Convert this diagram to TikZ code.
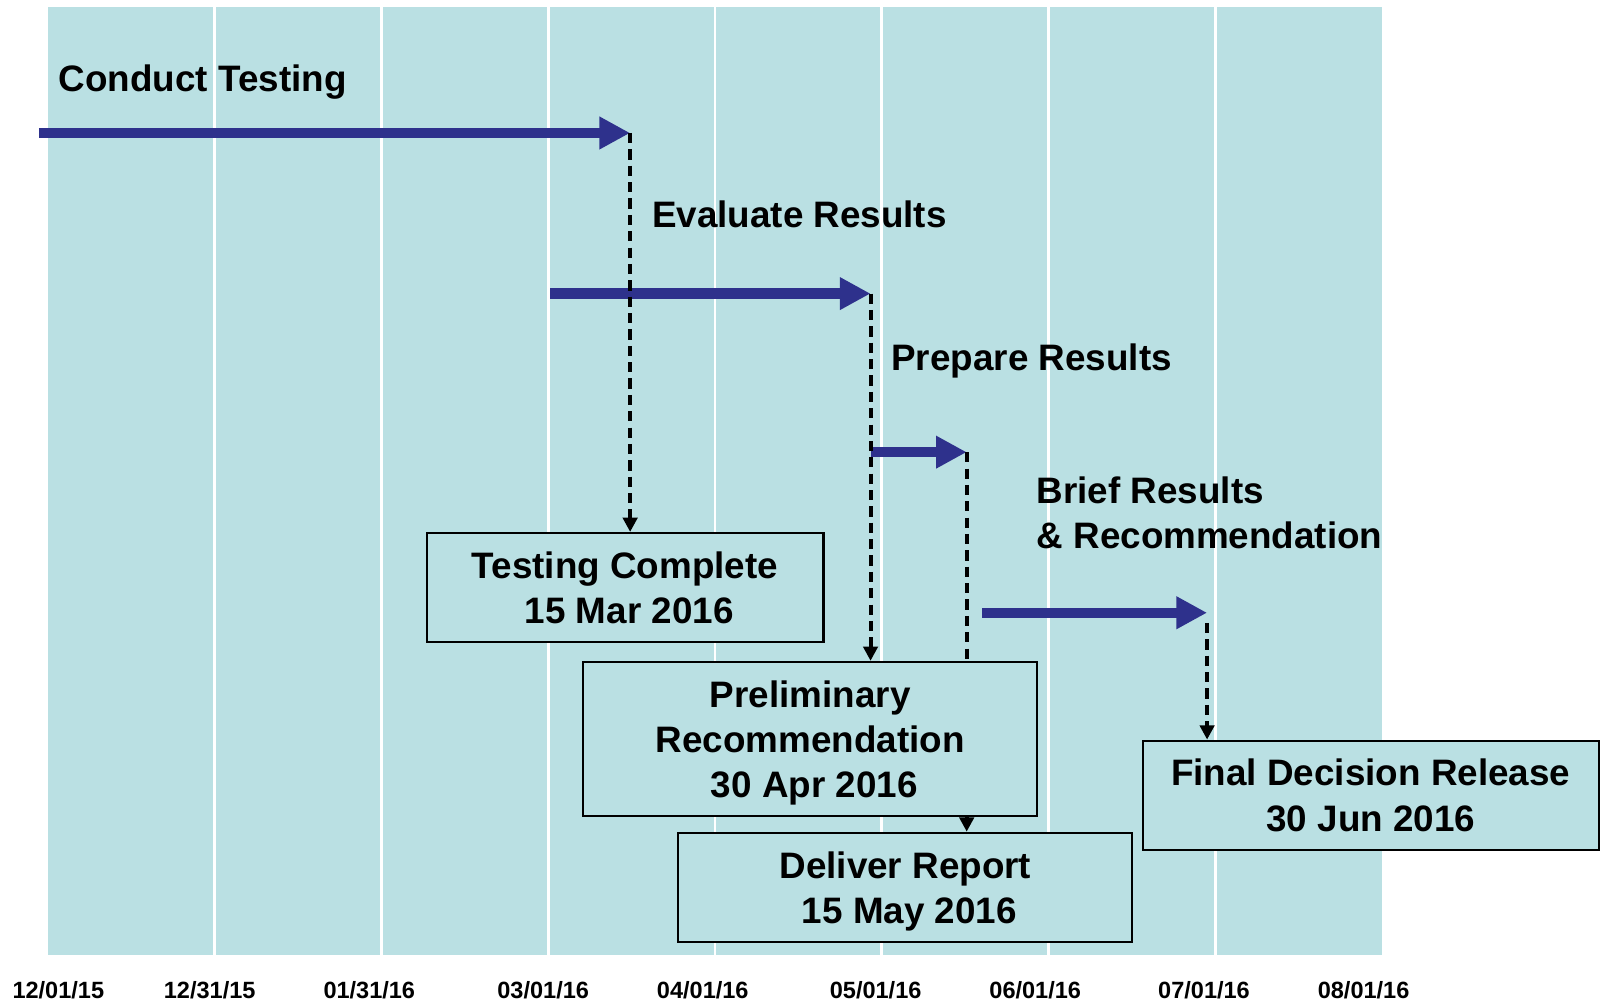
\documentclass[tikz,border=0pt]{standalone}
\usepackage{fontspec}
\setmainfont{Liberation Sans}
\usepackage{xcolor}
\usetikzlibrary{arrows.meta, positioning}

\definecolor{chartbg}{RGB}{186,224,227}
\definecolor{taskblue}{RGB}{46,49,140}

\begin{document}
\begin{tikzpicture}[x=0.5pt,y=0.5pt,yscale=-1,xscale=1,
  task/.style={draw=taskblue, line width=5pt, -{Triangle[length=15pt 0,width=15pt 0]}},
  link/.style={line width=2pt, dash pattern=on 5pt off 3pt, -{Triangle[length=7pt 0,width=7pt 0]}},
  gridline/.style={white, line width=1.3pt},
  milestone/.style={draw, line width=1pt, fill=chartbg, align=center, inner sep=0pt,
    font=\bfseries\fontsize{18}{22}\selectfont},
  tasklabel/.style={anchor=base west, inner sep=0pt, align=left,
    font=\bfseries\fontsize{18}{22}\selectfont},
  datelabel/.style={anchor=base, inner sep=0pt, font=\bfseries\fontsize{11.5}{13}\selectfont}]
\useasboundingbox (0,0) rectangle (1568,979);

%Shape: chart background
\fill [chartbg] (47,7) rectangle (1351,934);
%Straight Lines: month separators
\draw [gridline] (210,7) -- (210,934);
\draw [gridline] (373,7) -- (373,934);
\draw [gridline] (536,7) -- (536,934);
\draw [gridline] (699,7) -- (699,934);
\draw [gridline] (862,7) -- (862,934);
\draw [gridline] (1025,7) -- (1025,934);
\draw [gridline] (1188,7) -- (1188,934);

% Text Node: dates
\node [datelabel] (d1) at (57,976) {12/01/15};
\node [datelabel] (d2) at (205,976) {12/31/15};
\node [datelabel] (d3) at (361,976) {01/31/16};
\node [datelabel] (d4) at (531,976) {03/01/16};
\node [datelabel] (d5) at (687,976) {04/01/16};
\node [datelabel] (d6) at (856,976) {05/01/16};
\node [datelabel] (d7) at (1012,976) {06/01/16};
\node [datelabel] (d8) at (1177,976) {07/01/16};
\node [datelabel] (d9) at (1333,976) {08/01/16};

% Text Node: task labels
\node [tasklabel] (ctlbl) at (57,89) {Conduct Testing};
\node [tasklabel] (erlbl) at (637,222) {Evaluate Results};
\node [tasklabel] (prlbl) at (871,362) {Prepare Results};
\node [tasklabel] (brlbl) at (1013,492) {Brief Results};
\node [tasklabel] (brlbl2) at (1013,536) {\& Recommendation};

%Shape: milestone boxes
\node [milestone, minimum width=194pt, minimum height=53.5pt] (tc) at (611,574.5)
  {Testing Complete\\\hspace*{4pt}15 Mar 2016};
\node [milestone, minimum width=222pt, minimum height=75.5pt] (prelim) at (792,722.5)
  {Preliminary\\Recommendation\\\hspace*{4pt}\smash{30 Apr 2016}};
\node [milestone, minimum width=222pt, minimum height=53.5pt] (dr) at (885,867.5)
  {Deliver Report\\\hspace*{4pt}\smash{15 May 2016}};
\node [milestone, minimum width=223pt, minimum height=53.5pt] (fd) at (1340,777.5)
  {Final Decision Release\\30 Jun 2016};

% task arrows
\coordinate (ct-s) at (38,130);
\coordinate (ct-e) at (616,130);
\coordinate (er-s) at (538,287);
\coordinate (er-e) at (851,287);
\coordinate (pr-s) at (851,442);
\coordinate (pr-e) at (945,442);
\coordinate (br-s) at (960,599);
\coordinate (br-e) at (1180,599);
\draw [task] (ct-s) -- (ct-e);
\draw [task] (er-s) -- (er-e);
\draw [task] (pr-s) -- (pr-e);
\draw [task] (br-s) -- (br-e);

% dashed links
\draw [link] (ct-e) -- (ct-e |- tc.north);
\draw [link] (er-e) -- (er-e |- prelim.north);
\draw [link, -] (pr-e) -- (pr-e |- prelim.north);
\draw [link] (pr-e |- prelim.south) -- (pr-e |- dr.north);
\draw [link, shorten <=5pt] (br-e) -- (br-e |- fd.north);

\end{tikzpicture}
\end{document}
